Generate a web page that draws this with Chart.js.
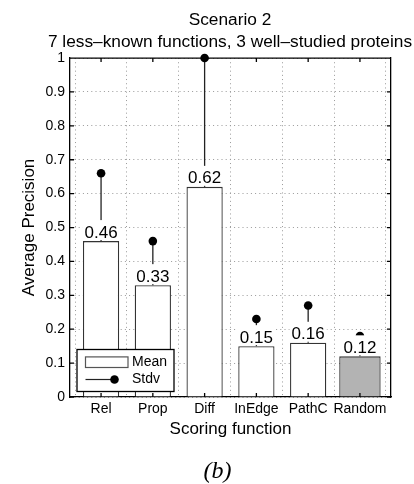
<!DOCTYPE html>
<html>
<head>
<meta charset="utf-8">
<script src="https://cdn.jsdelivr.net/npm/chart.js@4"></script>
<style>
  html, body { margin: 0; padding: 0; background: #fff; overflow: hidden; }
  #wrap { position: relative; width: 414px; height: 484px; }
  #precisionChart { position: absolute; left: 0; top: 0; }
  #panelTag {
    position: absolute; left: 0; top: 457px; width: 435px;
    text-align: center; font: italic 24px "Liberation Serif", serif; color: #000;
  }
</style>
</head>
<body>
<div id="wrap">
  <canvas id="precisionChart" width="460" height="484"></canvas>
  <div id="panelTag">(b)</div>
</div>
<script>
const methods = ['Rel', 'Prop', 'Diff', 'InEdge', 'PathC', 'Random'];
const meanAP = [0.46, 0.33, 0.62, 0.15, 0.16, 0.12];
const stdAP = [0.20, 0.13, 0.38, 0.08, 0.11, 0.06];
const yTicks = [0, 0.1, 0.2, 0.3, 0.4, 0.5, 0.6, 0.7, 0.8, 0.9, 1];
const titleLines = ['Scenario 2', '7 less\u2013known functions, 3 well\u2013studied proteins'];

const fontFamily = '"Liberation Sans", Arial, Helvetica, sans-serif';
const baselineIdx = methods.indexOf('Random');
const gridDots = [1, 3.2];

// bars: scored methods in white, random baseline in grey (slightly wider)
const scoredBars = methods.map((m, i) => ({ x: i + 1, y: meanAP[i] })).filter((_, i) => i !== baselineIdx);
const baselineBar = [{ x: baselineIdx + 1, y: meanAP[baselineIdx] }];

// one short segment per method, from the mean up to mean + stdv, dot on top
const stdvSets = methods.map((m, i) => ({
    type: 'line',
    label: 'Stdv',
    data: [{ x: i + 1, y: meanAP[i] }, { x: i + 1, y: meanAP[i] + stdAP[i] }],
    borderColor: '#222',
    borderWidth: 1.3,
    pointRadius: [0, 4.3],
    pointBackgroundColor: '#000',
    pointBorderWidth: 0,
    clip: false
}));

// axes box across the top plus small inward ticks
const frameBox = {
    id: 'frameBox',
    afterDatasetsDraw(chart) {
        const { ctx, chartArea: a, scales } = chart;
        ctx.save();
        ctx.strokeStyle = '#000';
        ctx.lineWidth = 1.3;
        ctx.beginPath();
        ctx.moveTo(a.left, a.top);
        ctx.lineTo(a.right, a.top);
        yTicks.forEach(v => {
            const py = scales.y.getPixelForValue(v);
            ctx.moveTo(a.left, py); ctx.lineTo(a.left + 4, py);
            ctx.moveTo(a.right, py); ctx.lineTo(a.right - 4, py);
        });
        methods.forEach((m, i) => {
            const px = scales.x.getPixelForValue(i + 1);
            ctx.moveTo(px, a.bottom); ctx.lineTo(px, a.bottom - 4);
            ctx.moveTo(px, a.top); ctx.lineTo(px, a.top + 4);
        });
        ctx.stroke();
        ctx.restore();
    }
};

// mean value printed above every bar, on a white patch
const meanLabels = {
    id: 'meanLabels',
    afterDatasetsDraw(chart) {
        const { ctx, scales } = chart;
        ctx.save();
        ctx.font = '17px ' + fontFamily;
        ctx.textAlign = 'center';
        ctx.textBaseline = 'alphabetic';
        meanAP.forEach((v, i) => {
            const px = scales.x.getPixelForValue(i + 1);
            const py = scales.y.getPixelForValue(v);
            const txt = v.toFixed(2);
            const w = ctx.measureText(txt).width + 4;
            ctx.fillStyle = '#fff';
            ctx.fillRect(px - w / 2, py - 21, w, 20);
            ctx.fillStyle = '#000';
            ctx.fillText(txt, px, py - 3.5);
        });
        ctx.restore();
    }
};

// boxed legend in the lower left corner of the plot
const cornerLegend = {
    id: 'cornerLegend',
    afterDraw(chart) {
        const { ctx, chartArea: a } = chart;
        const left = a.left + 7, bottom = a.bottom - 5.5;
        const w = 97, h = 42;
        ctx.save();
        ctx.fillStyle = '#fff';
        ctx.fillRect(left, bottom - h, w, h);
        ctx.strokeStyle = '#000';
        ctx.lineWidth = 1.3;
        ctx.strokeRect(left, bottom - h, w, h);

        const row1 = bottom - h + 12.7, row2 = bottom - h + 30;
        ctx.strokeStyle = '#555';
        ctx.lineWidth = 1.2;
        ctx.strokeRect(left + 8.5, row1 - 5.3, 42.5, 10.6);

        ctx.strokeStyle = '#222';
        ctx.beginPath();
        ctx.moveTo(left + 8.5, row2);
        ctx.lineTo(left + 37.5, row2);
        ctx.stroke();
        ctx.fillStyle = '#000';
        ctx.beginPath();
        ctx.arc(left + 37.5, row2, 4.3, 0, Math.PI * 2);
        ctx.fill();

        ctx.font = '14px ' + fontFamily;
        ctx.textAlign = 'left';
        ctx.textBaseline = 'middle';
        ctx.fillText('Mean', left + 55, row1);
        ctx.fillText('Stdv', left + 55, row2);
        ctx.restore();
    }
};

const chartContext = document.getElementById('precisionChart').getContext('2d');
new Chart(chartContext, {
    type: 'bar',
    data: {
        datasets: [
            ...stdvSets,
            {
                label: 'Mean',
                data: scoredBars,
                stack: 'bars',
                backgroundColor: '#fff',
                borderColor: '#333',
                borderWidth: 1.3,
                categoryPercentage: 1,
                barPercentage: 0.7
            },
            {
                label: 'Random',
                data: baselineBar,
                stack: 'bars',
                backgroundColor: '#b3b3b3',
                borderColor: '#333',
                borderWidth: 1.3,
                categoryPercentage: 1,
                barPercentage: 0.8
            }
        ]
    },
    options: {
        responsive: false,
        animation: false,
        layout: { padding: { left: 0, right: 0, top: 0, bottom: 44 } },
        plugins: {
            legend: { display: false },
            tooltip: { enabled: false },
            title: {
                display: true,
                text: titleLines,
                color: '#000',
                font: { family: fontFamily, size: 17.3, weight: 'normal', lineHeight: 1.23 },
                padding: { top: 10, bottom: 5.5 }
            }
        },
        scales: {
            x: {
                type: 'linear',
                offset: false,
                min: 0.4,
                max: 6.6,
                afterBuildTicks: s => { s.ticks = methods.map((m, i) => ({ value: i + 1 })); },
                afterFit: s => { s.height = 43; },
                ticks: {
                    callback: v => methods[v - 1],
                    color: '#000',
                    padding: 4,
                    autoSkip: false,
                    maxRotation: 0,
                    font: { family: fontFamily, size: 14 }
                },
                grid: { color: '#999', drawTicks: false },
                border: { color: '#000', width: 1.3, dash: gridDots },
                title: {
                    display: true,
                    text: 'Scoring function',
                    color: '#000',
                    padding: { top: 0, bottom: 0 },
                    font: { family: fontFamily, size: 17 }
                }
            },
            y: {
                min: 0,
                max: 1,
                afterBuildTicks: s => { s.ticks = yTicks.map(v => ({ value: v })); },
                afterFit: s => { s.width = 70; },
                ticks: {
                    callback: v => String(+v.toFixed(1)),
                    color: '#000',
                    padding: 5,
                    font: { family: fontFamily, size: 14 }
                },
                grid: { color: '#999', drawTicks: false },
                border: { color: '#000', width: 1.3, dash: gridDots },
                title: {
                    display: true,
                    text: 'Average Precision',
                    color: '#000',
                    padding: { top: 18.8, bottom: 0 },
                    font: { family: fontFamily, size: 17 }
                }
            },
            yRight: {
                position: 'right',
                min: 0,
                max: 1,
                display: true,
                afterFit: s => { s.width = 69; },
                ticks: { display: false },
                grid: { drawOnChartArea: false, drawTicks: false },
                border: { color: '#000', width: 1.3 }
            }
        }
    },
    plugins: [frameBox, meanLabels, cornerLegend]
});
</script>
</body>
</html>
